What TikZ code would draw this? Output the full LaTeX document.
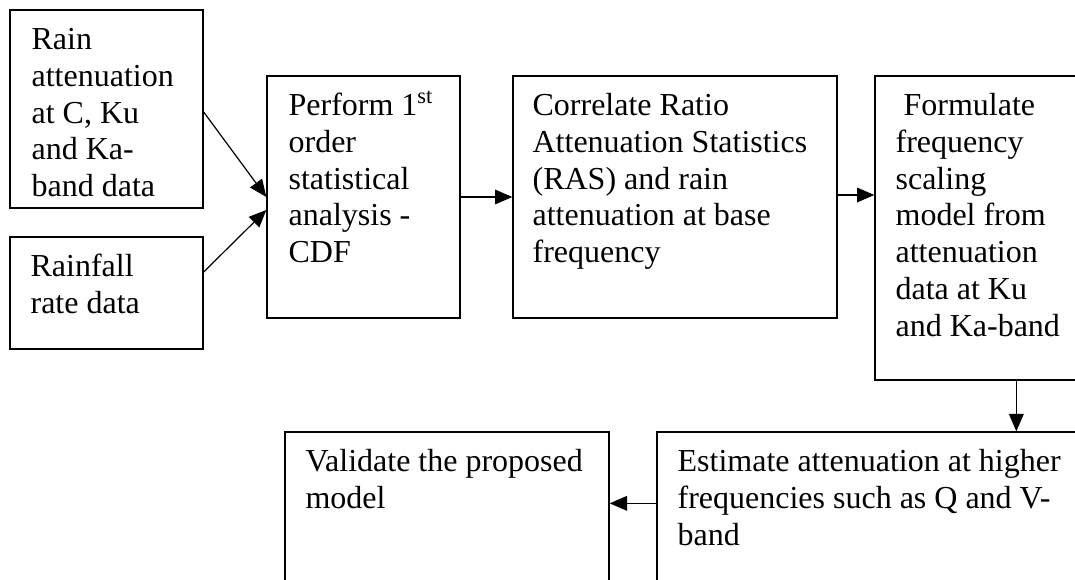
\documentclass[tikz,border=0pt]{standalone}
\usepackage{fontspec}
\setmainfont{Liberation Serif}
\usetikzlibrary{fit,calc,arrows.meta}
\tikzset{
  box/.style={draw=black, line width=1pt, inner sep=0pt, fill=none},
  txt/.style={anchor=north west, inner sep=0pt, align=left,
    font=\fontsize{24}{27.6}\selectfont},
  arr/.style={draw=black, line width=0.9pt, -{Triangle[length=13pt,width=11pt]}}
}
\begin{document}
\begin{tikzpicture}[x=0.75pt, y=-0.75pt]
\useasboundingbox (0,0) rectangle (1075,580);
\clip (0,0) rectangle (1075,580);
% boxes
\node[box, fit={(10,10) (203,208)}] (A) {};
\node[box, fit={(10,237) (203,349)}] (B) {};
\node[box, fit={(267,76) (460,318)}] (C) {};
\node[box, fit={(513,76) (837,318)}] (D) {};
\node[box, fit={(875,76) (1100,380)}] (E) {};
\node[box, fit={(657,432) (1100,610)}] (F) {};
\node[box, fit={(285,432) (609,610)}] (G) {};
% texts
\node[txt] (tA) at ($(A.north west)+(22,14.2)$) {\strut Rain\\attenuation\\at C, Ku\\and Ka-\\band data};
\node[txt] (tB) at ($(B.north west)+(21,14.2)$) {\strut Rainfall\\rate data};
\node[txt] (tC) at ($(C.north west)+(22,14.2)$) {\strut Perform 1\textsuperscript{st}\\order\\statistical\\analysis -\\CDF};
\node[txt] (tD) at ($(D.north west)+(20,14.2)$) {\strut Correlate Ratio\\Attenuation Statistics\\(RAS) and rain\\attenuation at base\\frequency};
\node[txt] (tE) at ($(E.north west)+(21,14.2)$) {\strut\hspace{0.25em}Formulate\\frequency\\scaling\\model from\\attenuation\\data at Ku\\and Ka-band};
\node[txt] (tF) at ($(F.north west)+(21,14.2)$) {\strut Estimate attenuation at higher\\frequencies such as Q and V-\\band};
\node[txt] (tG) at ($(G.north west)+(21,14.2)$) {\strut Validate the proposed\\model};
% connectors
\draw[arr] ($(A.east)+(0,3)$) -- (C.west);
\draw[arr] ($(B.east)+(0,-21)$) -- ($(C.west)+(0,13)$);
\draw[arr] (C.east) -- (D.west);
\draw[arr] ($(D.east)+(0,-2)$) -- ($(D.east -| E.west)+(0,-2)$);
\draw[arr] ($(E.south west)+(142,0)$) -- ($(F.north west)+(360,0)$);
\draw[arr] ($(F.north west)+(0,72)$) -- ($(G.north east)+(0,72)$);
\end{tikzpicture}
\end{document}
